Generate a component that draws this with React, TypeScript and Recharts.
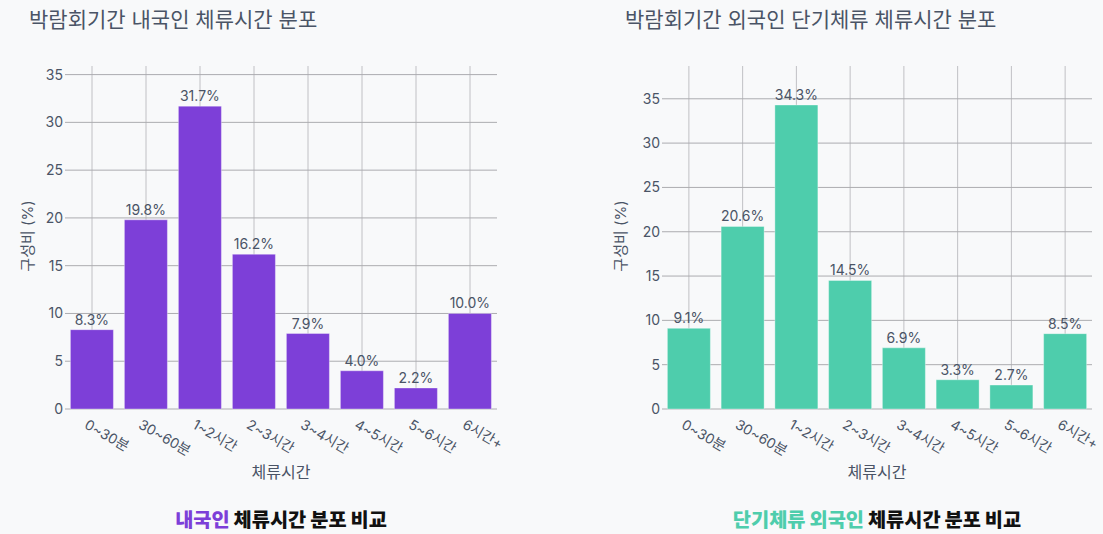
import React from 'react';
import { BarChart, Bar, XAxis, YAxis, CartesianGrid, LabelList } from 'recharts';

const categories = ['0~30분', '30~60분', '1~2시간', '2~3시간', '3~4시간', '4~5시간', '5~6시간', '6시간+'];
const domesticValues = [8.3, 19.8, 31.7, 16.2, 7.9, 4.0, 2.2, 10.0];
const foreignValues = [9.1, 20.6, 34.3, 14.5, 6.9, 3.3, 2.7, 8.5];
const yTicks = [0, 5, 10, 15, 20, 25, 30, 35];

const domesticData = categories.map((c, i) => ({ name: c, value: domesticValues[i] }));
const foreignData = categories.map((c, i) => ({ name: c, value: foreignValues[i] }));

const FONT = "Inter, 'Noto Sans CJK KR', 'Noto Sans', sans-serif";
const PURPLE = '#7d3fd8';
const TEAL = '#4ecdac';
const TEXT = '#4a5466';

const XTick = (props: any) => {
  const { x, y, payload } = props;
  const ax = x - 3;
  const ay = y + 1;
  return (
    <text
      x={ax}
      y={ay}
      dy={11}
      transform={`rotate(30 ${ax} ${ay})`}
      textAnchor="start"
      fontSize={14}
      fill={TEXT}
      fontFamily={FONT}
    >
      {payload.value}
    </text>
  );
};

const fmt = (v: any) => `${Number(v).toFixed(1)}%`;

// vertical grid lines at the category band centres only (no plot-edge lines)
const vGen = (p: any) => {
  const o = p?.offset;
  if (!o) return [];
  const band = o.width / categories.length;
  return categories.map((_, i) => o.left + band * (i + 0.5));
};

function makeHGen(yMax: number) {
  return (p: any) => {
    const o = p?.offset;
    if (!o) return [];
    return yTicks.map((t) => o.top + o.height * (1 - t / yMax));
  };
}

function Panel(props: {
  data: any[];
  color: string;
  yMax: number;
  width: number;
  margin: any;
}) {
  const { data, color, yMax, width, margin } = props;
  return (
    <BarChart width={width} height={534} data={data} margin={margin} barCategoryGap="10%">
      <CartesianGrid horizontal={false} vertical={true} stroke="#c0c0c4" verticalCoordinatesGenerator={vGen} />
      <CartesianGrid horizontal={true} vertical={false} stroke="#acacb0" horizontalCoordinatesGenerator={makeHGen(yMax)} />
      <XAxis
        dataKey="name"
        axisLine={false}
        tickLine={false}
        interval={0}
        height={60}
        tick={<XTick />}
      />
      <YAxis
        width={40}
        domain={[0, yMax]}
        ticks={yTicks}
        axisLine={false}
        tickLine={false}
        tickSize={0}
        tickMargin={2}
        tick={{ fontSize: 14, fill: TEXT, fontFamily: FONT }}
      />
      <Bar dataKey="value" fill={color} isAnimationActive={false} stroke="rgba(255,255,255,0.35)" strokeWidth={1}>
        <LabelList dataKey="value" position="top" offset={5} formatter={fmt} fontSize={14} fill={TEXT} fontFamily={FONT} />
      </Bar>
    </BarChart>
  );
}

const abs = (extra: React.CSSProperties): React.CSSProperties => ({
  position: 'absolute',
  fontFamily: FONT,
  whiteSpace: 'nowrap',
  ...extra,
});

export default function App() {
  return (
    <div
      style={{
        position: 'absolute',
        left: 0,
        top: 0,
        width: 1103,
        height: 534,
        background: '#f8f9fa',
        overflow: 'hidden',
        fontFamily: FONT,
      }}
    >
      <div style={{ position: 'absolute', left: 0, top: 0 }}>
        <Panel data={domesticData} color={PURPLE} yMax={35.9} width={550} margin={{ top: 66, right: 53, bottom: 65, left: 25 }} />
      </div>
      <div style={{ position: 'absolute', left: 550, top: 0 }}>
        <Panel data={foreignData} color={TEAL} yMax={38.7} width={553} margin={{ top: 66, right: 11, bottom: 65, left: 72 }} />
      </div>

      <div style={abs({ left: 29, top: 18, fontSize: 21, color: TEXT, transform: 'translateY(-50%)' })}>박람회기간 내국인 체류시간 분포</div>
      <div style={abs({ left: 625, top: 18, fontSize: 21, color: TEXT, transform: 'translateY(-50%)' })}>박람회기간 외국인 단기체류 체류시간 분포</div>

      <div style={abs({ left: 26, top: 236, fontSize: 15, color: TEXT, transform: 'translate(-50%,-50%) rotate(-90deg)' })}>구성비 (%)</div>
      <div style={abs({ left: 619, top: 236, fontSize: 15, color: TEXT, transform: 'translate(-50%,-50%) rotate(-90deg)' })}>구성비 (%)</div>

      <div style={abs({ left: 281, top: 471, fontSize: 16, color: TEXT, transform: 'translate(-50%,-50%)' })}>체류시간</div>
      <div style={abs({ left: 877, top: 471, fontSize: 16, color: TEXT, transform: 'translate(-50%,-50%)' })}>체류시간</div>

      <div style={abs({ left: 281, top: 518, fontSize: 19.75, fontWeight: 900, color: '#111', transform: 'translate(-50%,-50%)' })}>
        <span style={{ color: PURPLE }}>내국인</span> 체류시간 분포 비교
      </div>
      <div style={abs({ left: 877, top: 518, fontSize: 19.75, fontWeight: 900, color: '#111', transform: 'translate(-50%,-50%)' })}>
        <span style={{ color: TEAL }}>단기체류 외국인</span> 체류시간 분포 비교
      </div>
    </div>
  );
}
